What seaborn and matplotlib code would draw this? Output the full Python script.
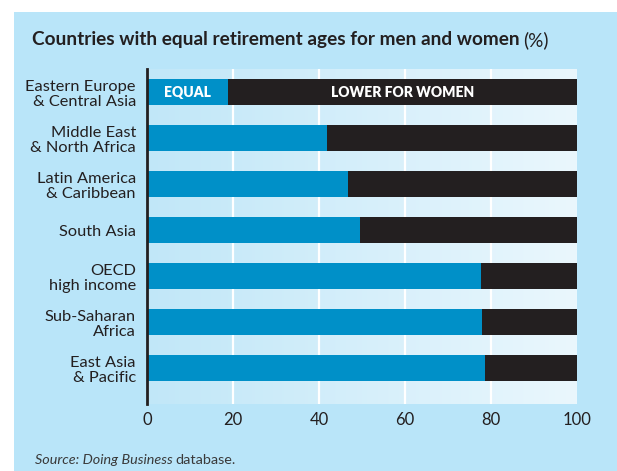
import numpy as np
import matplotlib
matplotlib.use("Agg")
import matplotlib.pyplot as plt
from matplotlib.patches import Rectangle
from matplotlib.colors import to_rgb
import seaborn as sns
import pandas as pd

# ---- data ----
regions = ["Eastern Europe\n& Central Asia", "Middle East\n& North Africa",
           "Latin America\n& Caribbean", "South Asia", "OECD\nhigh income",
           "Sub-Saharan\nAfrica", "East Asia\n& Pacific"]
equal = [18.8, 41.8, 46.7, 49.5, 77.6, 78.0, 78.5]
lower_for_women = [81.2, 58.2, 53.3, 50.5, 22.4, 22.0, 21.5]
xticks = [0, 20, 40, 60, 80, 100]
segment_labels = ["EQUAL", "LOWER FOR WOMEN"]

sns.set_theme(style="white")
plt.rcParams['font.family'] = ['Lato', 'DejaVu Sans']

DARK = "#231f20"
BLUE = "#0090c8"
PANEL = "#b9e5f9"

df = pd.DataFrame({"region": regions, "equal": equal, "lower": lower_for_women})
df["total"] = df["equal"] + df["lower"]

fig = plt.figure(figsize=(6.17, 4.71), dpi=100, facecolor="white")
fig.patches.append(Rectangle((14/617, 0), 1, 1 - 12/471, transform=fig.transFigure,
                             facecolor=PANEL, edgecolor="none", zorder=-10))

ax = fig.add_axes([147/617, 1 - 404/471, 430/617, 335/471])
ax.set_facecolor("none")

# gradient background
c0 = np.array(to_rgb("#c1e7f8"))
c1 = np.array(to_rgb("#eaf7fd"))
t = np.linspace(0, 1, 256)[None, :, None]
grad = c0 + (c1 - c0) * t
grad = np.repeat(grad, 2, axis=0)
ax.imshow(grad, extent=(0, 100, 6.78, -0.5), aspect="auto", zorder=0, interpolation="bilinear")

for g in xticks[1:-1]:
    ax.axvline(g, color="white", lw=1.6, zorder=1)

sns.barplot(data=df, y="region", x="total", color=DARK, orient="h", width=0.58,
            saturation=1, ax=ax, zorder=3, errorbar=None)
sns.barplot(data=df, y="region", x="equal", color=BLUE, orient="h", width=0.58,
            saturation=1, ax=ax, zorder=4, errorbar=None)
for p in ax.patches:
    p.set_edgecolor("none")

ax.set_xlim(0, 100)
ax.set_ylim(6.78, -0.5)
ax.set_xticks(xticks)
ax.set_xticklabels([str(v) for v in xticks])
ax.set_xlabel("")
ax.set_ylabel("")
ax.tick_params(axis="both", length=0, colors=DARK)
ax.tick_params(axis="y", pad=8, labelsize=11.8)
ax.tick_params(axis="x", pad=6, labelsize=12)
for lab in ax.get_yticklabels():
    lab.set_linespacing(1.1)
    lab.set_color(DARK)
for s in ["top", "right", "bottom"]:
    ax.spines[s].set_visible(False)
ax.spines["left"].set_color(DARK)
ax.spines["left"].set_linewidth(2)
ax.spines["left"].set_zorder(6)

# segment labels on first bar
ax.text(equal[0] / 2, 0, segment_labels[0], color="white", fontweight="heavy",
        fontsize=10, ha="center", va="center", zorder=7)
ax.text(equal[0] + lower_for_women[0] / 2, 0, segment_labels[1], color="white",
        fontweight="heavy", fontsize=10, ha="center", va="center", zorder=7)

# title
fig.canvas.draw()
r = fig.canvas.get_renderer()
t1 = fig.text(32/617, 1 - 40/471, "Countries with equal retirement ages for men and women",
              fontsize=13.7, fontweight="bold", color=DARK, va="center", ha="left")
bb = t1.get_window_extent(renderer=r)
fig.text((bb.x1 + 4) / fig.bbox.width, 1 - 40/471, "(%)", fontsize=13.7, color=DARK,
         va="center", ha="left")

s1 = fig.text(35/617, 1 - 460/471, "Source: Doing Business", fontsize=10.4, style="italic",
              color="#3a3a3a", va="center", ha="left")
bb2 = s1.get_window_extent(renderer=r)
fig.text((bb2.x1 + 3) / fig.bbox.width, 1 - 460/471, "database.", fontsize=10.4,
         color="#3a3a3a", va="center", ha="left")

fig.savefig("out.png", dpi=100, facecolor="white")
